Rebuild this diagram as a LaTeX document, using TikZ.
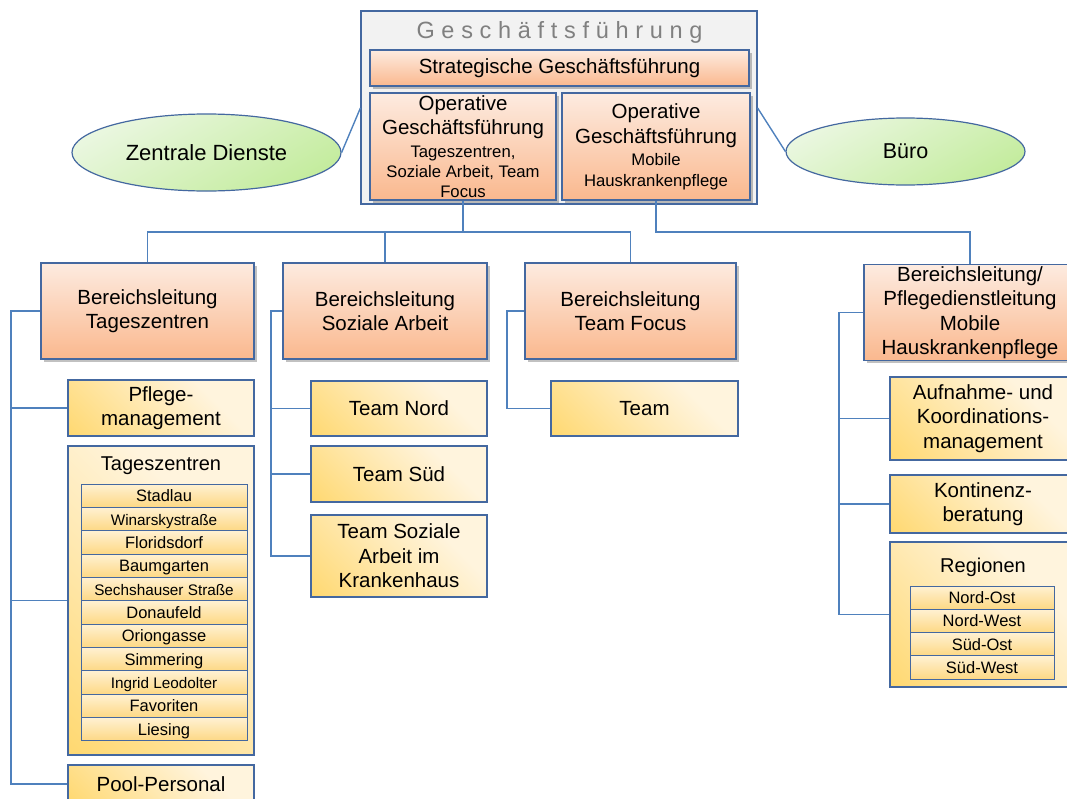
\documentclass[tikz,border=0pt]{standalone}
\usepackage{fontspec}
\setmainfont{Liberation Sans}
\usetikzlibrary{shadows,shapes.geometric,calc}
\definecolor{bordc}{RGB}{68,104,160}
\definecolor{connc}{RGB}{79,129,189}
\definecolor{orT}{RGB}{253,235,224}
\definecolor{orB}{RGB}{250,184,142}
\definecolor{yeL}{RGB}{255,244,221}
\definecolor{yeM}{RGB}{255,234,182}
\definecolor{yeD}{RGB}{255,217,115}
\definecolor{rowT}{RGB}{255,241,210}
\definecolor{rowB}{RGB}{253,216,132}
\definecolor{grL}{RGB}{234,247,224}
\definecolor{grD}{RGB}{196,236,158}
\definecolor{gfill}{RGB}{242,242,242}
\definecolor{titlec}{RGB}{128,128,128}
\pgfdeclareverticalshading{yeshade}{100bp}{color(0bp)=(yeD); color(16bp)=(yeD); color(48bp)=(yeM); color(68bp)=(yeL); color(100bp)=(yeL)}
\pgfdeclareverticalshading{grshade}{100bp}{color(0bp)=(grD); color(25bp)=(grD); color(75bp)=(grL); color(100bp)=(grL)}
\newcommand\fs[2]{\fontsize{#1}{#2}\selectfont}
\newcommand\lsp[1]{#1\kern6.7pt}
\begin{document}
\begin{tikzpicture}[x=1pt,y=-1pt,
  box/.style={draw=bordc, line width=1.2pt, inner sep=0pt, align=center, text=black},
  orbox/.style={box, top color=orT, bottom color=orB,
     drop shadow={shadow xshift=2.5pt, shadow yshift=-2.5pt, opacity=0.35, fill=black!70}},
  yebox/.style={box, shading=yeshade, shading angle=-45, font=\fs{20.5}{24.5}},
  rowbox/.style={draw=bordc, line width=1pt, inner sep=0pt, top color=rowT, bottom color=rowB, text=black,
     text height=12pt, text depth=0pt},
  ell/.style={ellipse, draw=bordc, line width=1.2pt, inner sep=0pt, shading=grshade, shading angle=30, text=black},
  conn/.style={draw=connc, line width=1.4pt},
  blfont/.style={font=\fs{20.5}{24.5}}
]
\useasboundingbox (0,0) rectangle (1067,798);
\clip (0,0) rectangle (1067,798);

% top management
\node[box, fill=gfill, minimum width=396pt, minimum height=193pt] (gf) at (559,107.5) {};
\node[font=\fs{23.5}{28}, text=titlec, anchor=base, inner sep=0pt] (gft) at (559.5,38)
  {\lsp G\lsp e\lsp s\lsp c\lsp h\lsp ä\lsp f\lsp t\lsp s\lsp f\lsp ü\lsp h\lsp r\lsp u\lsp n g};
\node[orbox, minimum width=379pt, minimum height=36pt, font=\fs{20.5}{24}] (strat) at (559.5,68) {Strategische Geschäftsführung};
\node[orbox, minimum width=186pt, minimum height=107pt, font=\fs{16.7}{20}] (op1) at (463,146.5)
  {\fs{20.5}{24}Operative\\[4pt]\fs{20.5}{24}Geschäftsführung\\[3pt]Tageszentren,\\Soziale Arbeit, Team\\Focus};
\node[orbox, minimum width=188pt, minimum height=107pt, font=\fs{16.7}{21}] (op2) at (656,146.5)
  {\fs{20.5}{24}Operative\\[4pt]\fs{20.5}{24}Geschäftsführung\\[1pt]Mobile\\Hauskrankenpflege};

% ellipses
\node[ell, minimum width=269pt, minimum height=77pt, font=\fs{22}{26}] (zd) at (206.5,152.5) {Zentrale Dienste};
\node[ell, minimum width=239pt, minimum height=67pt, font=\fs{21.5}{26}] (buero) at (905.5,151.5) {Büro};

% Bereichsleitungen
\node[orbox, blfont, minimum width=213pt, minimum height=96pt] (bl1) at (147.5,311) {Bereichsleitung\\Tageszentren};
\node[orbox, blfont, minimum width=204pt, minimum height=96pt] (bl2) at (385,311) {Bereichsleitung\\Soziale Arbeit};
\node[orbox, blfont, minimum width=211pt, minimum height=96pt] (bl3) at (630.5,311) {Bereichsleitung\\Team Focus};
\node[orbox, blfont, minimum width=212pt, minimum height=96pt] (bl4) at (970,312.5) {Bereichsleitung/\\Pflegedienstleitung\\Mobile\\Hauskrankenpflege};

% column 1
\node[yebox, minimum width=186pt, minimum height=56pt] (pm) at (161,408) {Pflege-\\management};
\node[yebox, minimum width=186pt, minimum height=309pt] (tz) at (161,600.5) {};
\node[font=\fs{20}{24}, inner sep=0pt] (tzt) at (161,466) {Tageszentren};
\foreach \s/\t [count=\i] in {16.5/Stadlau, 15.3/Winarskystraße, 16.5/Floridsdorf, 16.5/Baumgarten,
   15.3/Sechshauser Straße, 16.5/Donaufeld, 16.5/Oriongasse, 16.5/Simmering, 15.3/Ingrid Leodolter,
   16.5/Favoriten, 16.5/Liesing}
  \node[rowbox, minimum width=166pt, minimum height=23.36pt, font=\fs{\s}{18}] (tz\i) at (164,{484+23.36*(\i-0.5)}) {\t};
\node[yebox, minimum width=186pt, minimum height=38pt] (pool) at (161,784) {Pool-Personal};

% column 2
\node[yebox, minimum width=176pt, minimum height=55pt] (tn) at (399,408.5) {Team Nord};
\node[yebox, minimum width=176pt, minimum height=56pt] (ts) at (399,474) {Team Süd};
\node[yebox, minimum width=176pt, minimum height=82pt] (tsk) at (399,556) {Team Soziale\\Arbeit im\\Krankenhaus};

% column 3
\node[yebox, minimum width=187pt, minimum height=55pt] (team) at (644.5,408.5) {Team};

% column 4
\node[yebox, minimum width=186pt, minimum height=83pt] (auf) at (983,418.5) {Aufnahme- und\\Koordinations-\\management};
\node[yebox, minimum width=186pt, minimum height=58pt] (kont) at (983,504) {Kontinenz-\\beratung};
\node[yebox, minimum width=186pt, minimum height=145pt] (reg) at (983,614.5) {};
\node[font=\fs{20}{24}, inner sep=0pt] (regt) at (983,567) {Regionen};
\foreach \t [count=\i] in {Nord-Ost, Nord-West, Süd-Ost, Süd-West}
  \node[rowbox, minimum width=144pt, minimum height=23.3pt, font=\fs{16.5}{18}] (rg\i) at (982,{586+23.3*(\i-0.5)}) {\t};

% connectors
\coordinate (busy) at (0,232);
\coordinate (gfy) at (0,108);
\draw[conn] (zd.east) -- (gf.west |- gfy);
\draw[conn] (buero.west) -- (gf.east |- gfy);
\draw[conn] (op1.south) -- (op1.south |- busy) -| (bl1.north);
\draw[conn] (op1.south |- busy) -| (bl2.north);
\draw[conn] (op1.south |- busy) -| (bl3.north);
\draw[conn] (op2.south) -- (op2.south |- busy) -| (bl4.north);

\coordinate (tr1) at (11,311);
\draw[conn] (bl1.west) -- (tr1) |- (pool.west);
\draw[conn] (tr1 |- pm.west) -- (pm.west);
\draw[conn] (tr1 |- tz.west) -- (tz.west);

\coordinate (tr2) at (271,311);
\draw[conn] (bl2.west) -- (tr2) |- (tsk.west);
\draw[conn] (tr2 |- tn.west) -- (tn.west);
\draw[conn] (tr2 |- ts.west) -- (ts.west);

\coordinate (tr3) at (507,311);
\draw[conn] (bl3.west) -- (tr3) |- (team.west);

\coordinate (tr4) at (839,312.5);
\draw[conn] (bl4.west) -- (tr4) |- (reg.west);
\draw[conn] (tr4 |- auf.west) -- (auf.west);
\draw[conn] (tr4 |- kont.west) -- (kont.west);
\end{tikzpicture}
\end{document}
